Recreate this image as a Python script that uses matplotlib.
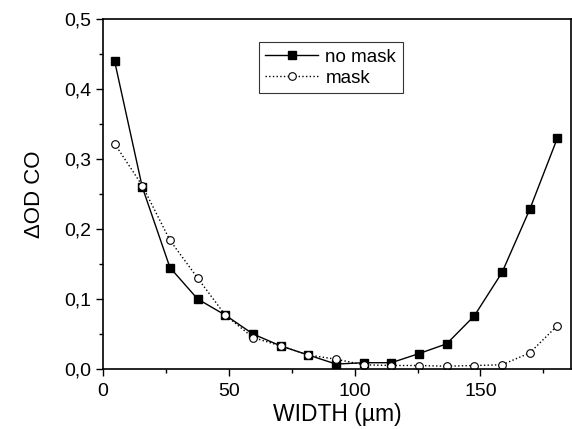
import matplotlib
matplotlib.use("Agg")
import matplotlib.pyplot as plt
from matplotlib.ticker import FuncFormatter, MultipleLocator

width = [4.6, 15.6, 26.6, 37.6, 48.6, 59.6, 70.6, 81.6, 92.6, 103.6, 114.6, 125.6, 136.6, 147.6, 158.6, 169.6, 180.6]
no_mask = [0.440, 0.260, 0.145, 0.100, 0.077, 0.050, 0.033, 0.020, 0.007, 0.009, 0.009, 0.022, 0.036, 0.076, 0.138, 0.228, 0.330]
mask = [0.322, 0.262, 0.184, 0.130, 0.077, 0.045, 0.033, 0.020, 0.014, 0.006, 0.005, 0.005, 0.004, 0.005, 0.006, 0.023, 0.062]

plt.rcParams['font.family'] = ['Liberation Sans', 'DejaVu Sans']

fig = plt.figure(figsize=(5.72, 4.29), dpi=100)
ax = fig.add_axes([103/572, 1 - 369/429, (571 - 103)/572, (369 - 19)/429])

ax.plot(width, no_mask, '-', color='black', lw=1.0, marker='s', ms=5.5,
        mfc='black', mec='black', label='no mask')
ax.plot(width, mask, ':', color='black', lw=1.0, marker='o', ms=5.5,
        mfc='white', mec='black', mew=0.8, label='mask')

ax.set_xlim(0, 186)
ax.set_ylim(0, 0.5)
ax.xaxis.set_major_locator(MultipleLocator(50))
ax.xaxis.set_minor_locator(MultipleLocator(25))
ax.yaxis.set_major_locator(MultipleLocator(0.1))
ax.yaxis.set_minor_locator(MultipleLocator(0.05))
ax.yaxis.set_major_formatter(FuncFormatter(lambda v, p: f"{v:.1f}".replace('.', ',')))
ax.tick_params(which='both', direction='out', top=False, right=False, labelsize=14, width=1)
ax.tick_params(axis='x', which='major', pad=5)
ax.tick_params(which='major', length=5)
ax.tick_params(which='minor', length=3)
for s in ax.spines.values():
    s.set_linewidth(1.2)

ax.set_xlabel('WIDTH (µm)', fontsize=16.5, labelpad=2)
ax.set_ylabel('ΔOD CO', fontsize=16, labelpad=14)

leg = ax.legend(loc='upper left', bbox_to_anchor=(0.333, 0.934), borderaxespad=0,
                fontsize=13.5, frameon=True, fancybox=False, edgecolor='black',
                handlelength=2.8, borderpad=0.35, labelspacing=0.2, handletextpad=0.4)
leg.get_frame().set_linewidth(0.8)

fig.savefig('out.png', dpi=100)
